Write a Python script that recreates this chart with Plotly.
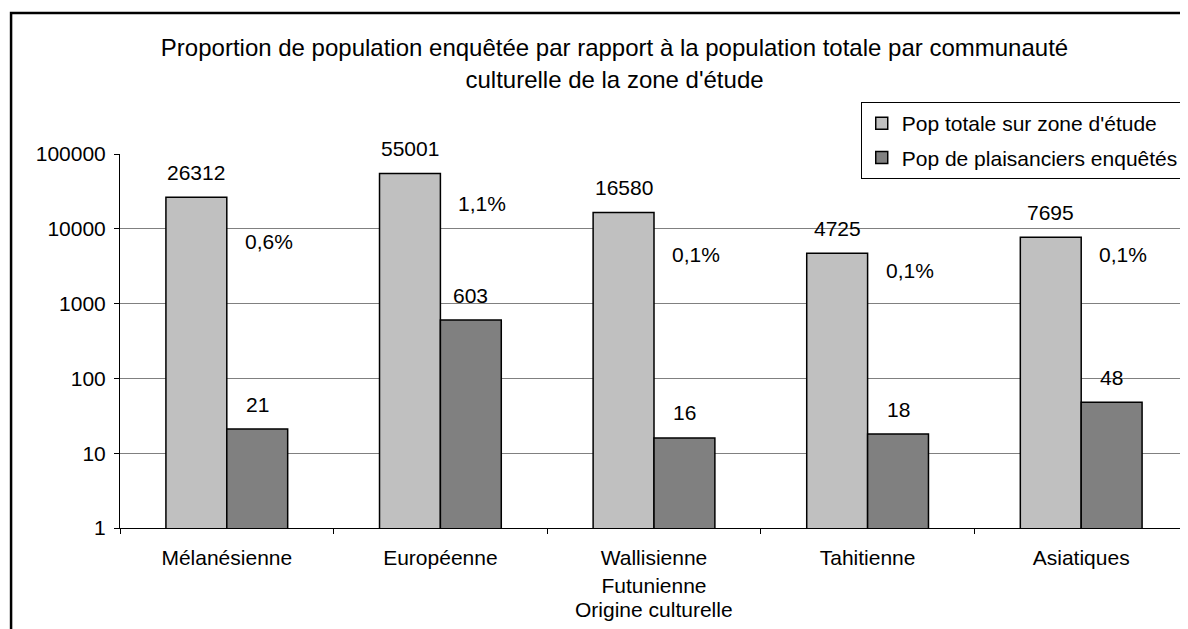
import math

import plotly.graph_objects as go

# data
categories = ["Mélanésienne", "Européenne", "Wallisienne<br>Futunienne", "Tahitienne", "Asiatiques"]
pop_totale = [26312, 55001, 16580, 4725, 7695]
pop_enquetee = [21, 603, 16, 18, 48]
pct_labels = ["0,6%", "1,1%", "0,1%", "0,1%", "0,1%"]
pct_heights = [6870, 22100, 4470, 2810, 4470]  # where the % text boxes sit
y_ticks = [1, 10, 100, 1000, 10000, 100000]

FONT = "Liberation Sans, Arial, sans-serif"
LIGHT = "#C0C0C0"
DARK = "#808080"

fig = go.Figure()
fig.add_trace(go.Bar(
    x=categories, y=pop_totale, name="Pop totale sur zone d'étude",
    legendgroup="a",
    marker=dict(color=LIGHT, line=dict(color="#000000", width=1.5)),
))
fig.add_trace(go.Bar(
    x=categories, y=pop_enquetee, name="Pop de plaisanciers enquêtés",
    legendgroup="b",
    marker=dict(color=DARK, line=dict(color="#000000", width=1.5)),
))

# value labels above bars
for cat, a, b in zip(categories, pop_totale, pop_enquetee):
    for val, shift in ((a, -30.5), (b, 30.5)):
        fig.add_annotation(
            x=cat, y=math.log10(val), text=str(val), showarrow=False,
            xshift=shift, yshift=25, font=dict(size=21, color="#000"),
        )

# percentage labels
for cat, txt, h in zip(categories, pct_labels, pct_heights):
    fig.add_annotation(
        x=cat, y=math.log10(h), text=txt, showarrow=False,
        xshift=42, font=dict(size=21, color="#000"),
    )

# axis title (sits close under the two-line category label)
fig.add_annotation(
    xref="paper", yref="paper", x=0.5, y=-0.219, yanchor="middle",
    text="Origine culturelle", showarrow=False, font=dict(size=21, color="#000"),
)

# outer frame
fig.add_shape(
    type="rect", xref="paper", yref="paper",
    x0=-0.102, x1=1.05, y0=-0.5, y1=1.377,
    line=dict(color="#000000", width=2.5), fillcolor="rgba(0,0,0,0)", layer="above",
)

fig.update_layout(
    width=1180, height=621,
    margin=dict(l=112, r=0, t=146, b=101),
    paper_bgcolor="#FFFFFF", plot_bgcolor="#FFFFFF",
    font=dict(family=FONT, size=21, color="#000"),
    title=dict(
        text="Proportion de population enquêtée par rapport à la population totale par communauté<br>culturelle de la zone d'étude",
        x=0.514, xanchor="center", y=0.922, yanchor="top",
        font=dict(size=24),
    ),
    barmode="group", bargap=0.43, bargroupgap=0,
    showlegend=True,
    legend=dict(
        x=0.996, xanchor="right", y=1.139, yanchor="top",
        bgcolor="#FFFFFF", bordercolor="#000000", borderwidth=1,
        font=dict(size=21), tracegroupgap=4, traceorder="grouped",
    ),
    xaxis=dict(
        showline=True, linecolor="#000", linewidth=1,
        ticks="outside", ticklen=5, tickcolor="#000", tickson="boundaries",
        ticklabelstandoff=11,
    ),
    yaxis=dict(
        type="log", range=[0, 5],
        tickvals=y_ticks, ticktext=[str(v) for v in y_ticks],
        showline=True, linecolor="#000", linewidth=1,
        ticks="outside", ticklen=5, tickcolor="#000", ticklabelstandoff=4,
        showgrid=True, gridcolor="#808080", gridwidth=1,
        zeroline=False,
    ),
)

fig.write_html("out.html")
